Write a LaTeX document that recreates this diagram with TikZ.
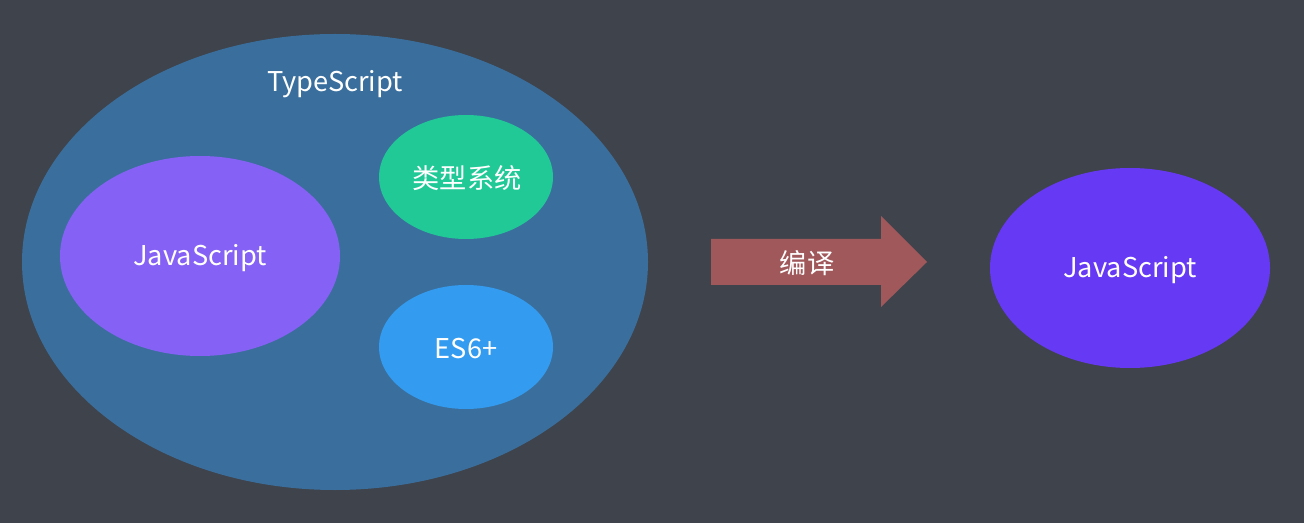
\documentclass[tikz,border=0pt]{standalone}
\usepackage{fontspec}
\setmainfont{Noto Sans CJK SC}
\usetikzlibrary{positioning,shapes.geometric}

\definecolor{bgcol}{HTML}{3F434B}
\definecolor{tscol}{HTML}{3A6F9D}
\definecolor{jscol}{HTML}{8661F5}
\definecolor{typecol}{HTML}{21C997}
\definecolor{escol}{HTML}{339CF0}
\definecolor{arrowcol}{HTML}{A0585B}
\definecolor{outcol}{HTML}{6639F5}

\tikzset{
  blob/.style={ellipse, inner sep=0pt, text=white, font=\fontsize{15.5pt}{18pt}\selectfont},
  lbl/.style={text=white, inner sep=0pt, font=\fontsize{15.5pt}{18pt}\selectfont}
}

\begin{document}
\begin{tikzpicture}[x=0.02cm, y=-0.02cm]
  % Background
  \fill[bgcol] (0,0) rectangle (1304,523);
  \useasboundingbox (0,0) rectangle (1304,523);

  % TypeScript superset
  \node[blob, fill=tscol, minimum width=626*0.02cm, minimum height=456*0.02cm] (ts) at (335,262) {};
  \node[lbl] (tslabel) at (335,84) {TypeScript};

  % Parts inside
  \node[blob, fill=jscol, minimum width=280*0.02cm, minimum height=200*0.02cm] (js) at (200,256) {};
  \node[lbl] (jslabel) at (200,258) {JavaScript};
  \node[blob, fill=typecol, minimum width=174*0.02cm, minimum height=124*0.02cm] (types) at (466,177) {};
  \node[lbl] (typeslabel) at (467,178) {类型系统};
  \node[blob, fill=escol, minimum width=174*0.02cm, minimum height=124*0.02cm] (es) at (466,347) {};
  \node[lbl] (eslabel) at (466,349) {ES6+};

  % Compile arrow
  \coordinate (tail) at (711,262);
  \coordinate (tip) at (927,262);
  \fill[arrowcol] (711,239) -- (881,239) -- (881,216) -- (tip)
    -- (881,307) -- (881,285) -- (711,285) -- cycle;
  \node[lbl] (compile) at (807,263) {编译};

  % Output
  \node[blob, fill=outcol, minimum width=280*0.02cm, minimum height=200*0.02cm] (out) at (1130,268) {};
  \node[lbl] (outlabel) at (1130,270) {JavaScript};
\end{tikzpicture}
\end{document}
